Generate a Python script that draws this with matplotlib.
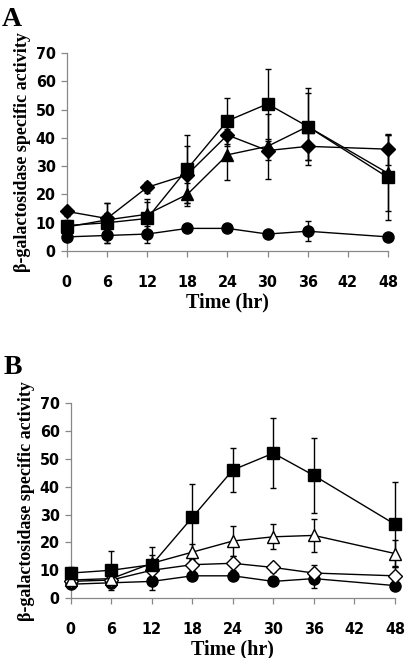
import numpy as np
import matplotlib.pyplot as plt

# time points (hr)
hours = [0, 6, 12, 18, 24, 30, 36, 48]
xticks = [0, 6, 12, 18, 24, 30, 36, 42, 48]

# panel A
a_square = [9, 10, 11.5, 29, 46, 52, 44, 26]
a_square_err = [2, 7, 6, 12, 8, 12.5, 13.5, 15]
a_triangle = [8.5, 11, 13, 20, 34, 37, 44, 27.5]
a_triangle_err = [1.5, 6, 5.5, 4, 9, 11.5, 12, 13.5]
a_diamond = [14, 11.5, 22.5, 27, 41, 35.5, 37, 36]
a_diamond_err = [1.5, 2, 2, 10, 4, 3.5, 5, 5.5]
a_circle = [5, 5.5, 6, 8, 8, 6, 7, 5]
a_circle_err = [1, 2.5, 3, 1, 1, 1, 3.5, 1]

# panel B
b_square = [9, 10, 12, 29, 46, 52, 44, 26.5]
b_square_err = [2, 7, 6.5, 12, 8, 12.5, 13.5, 15]
b_triangle = [6.5, 7, 12.5, 16.5, 20.5, 22, 22.5, 16]
b_triangle_err = [1, 1.5, 3, 3, 5.5, 4.5, 6, 5]
b_diamond = [6, 6.5, 10, 12, 12.5, 11, 9, 8]
b_diamond_err = [1, 1, 1.5, 2, 2.5, 1.5, 3, 3]
b_circle = [5, 5.5, 6, 8, 8, 6, 7, 4.5]
b_circle_err = [1, 2, 3, 1, 1, 1, 3.5, 1]

tickfont = ['DejaVu Sans']
labelfont = ['Liberation Serif', 'DejaVu Serif']


def series(ax, y, err, marker, ms, face='black'):
    ax.errorbar(hours, y, yerr=err, color='black', lw=1.0, elinewidth=1.0,
                capsize=2.5, capthick=1.0, marker=marker, ms=ms,
                mfc=face, mec='black', mew=1.0, clip_on=False, zorder=3)


def style(ax, ylab_x):
    ax.set_xlim(0, 48)
    ax.set_ylim(0, 70)
    ax.set_xticks(xticks)
    ax.set_yticks(range(0, 71, 10))
    for s in ['top', 'right']:
        ax.spines[s].set_visible(False)
    for s in ['left', 'bottom']:
        ax.spines[s].set_color('#888888')
        ax.spines[s].set_linewidth(0.9)
    ax.tick_params(direction='out', length=4, width=0.9, color='#888888')
    ax.tick_params(axis='x', pad=13)
    ax.tick_params(axis='y', pad=4)
    for lab in ax.get_xticklabels() + ax.get_yticklabels():
        lab.set_family(tickfont)
        lab.set_fontweight('bold')
        lab.set_fontstretch('condensed')
        lab.set_fontsize(11.5)
    ax.set_xlabel('Time (hr)', family=labelfont, fontweight='bold', fontsize=14.5, labelpad=2)
    ax.set_ylabel('β-galactosidase specific activity', family=labelfont,
                  fontweight='bold', fontsize=13)
    ax.yaxis.set_label_coords(ylab_x, 0.5)


fig = plt.figure(figsize=(4.05, 6.58), dpi=100)
axA = fig.add_axes([0.165, 0.6185, 0.793, 0.301])
axB = fig.add_axes([0.175, 0.091, 0.80, 0.2965])

series(axA, a_circle, a_circle_err, 'o', 8)
series(axA, a_diamond, a_diamond_err, 'D', 7)
series(axA, a_triangle, a_triangle_err, '^', 8)
series(axA, a_square, a_square_err, 's', 8)
style(axA, -0.112)

series(axB, b_circle, b_circle_err, 'o', 8)
series(axB, b_diamond, b_diamond_err, 'D', 7, face='white')
series(axB, b_triangle, b_triangle_err, '^', 8.5, face='white')
series(axB, b_square, b_square_err, 's', 8)
style(axB, -0.112)

fig.text(0.005, 0.99, 'A', family=labelfont, fontweight='bold', fontsize=20, va='top')
fig.text(0.008, 0.46, 'B', family=labelfont, fontweight='bold', fontsize=20, va='top')

fig.savefig('out.png', dpi=100)
